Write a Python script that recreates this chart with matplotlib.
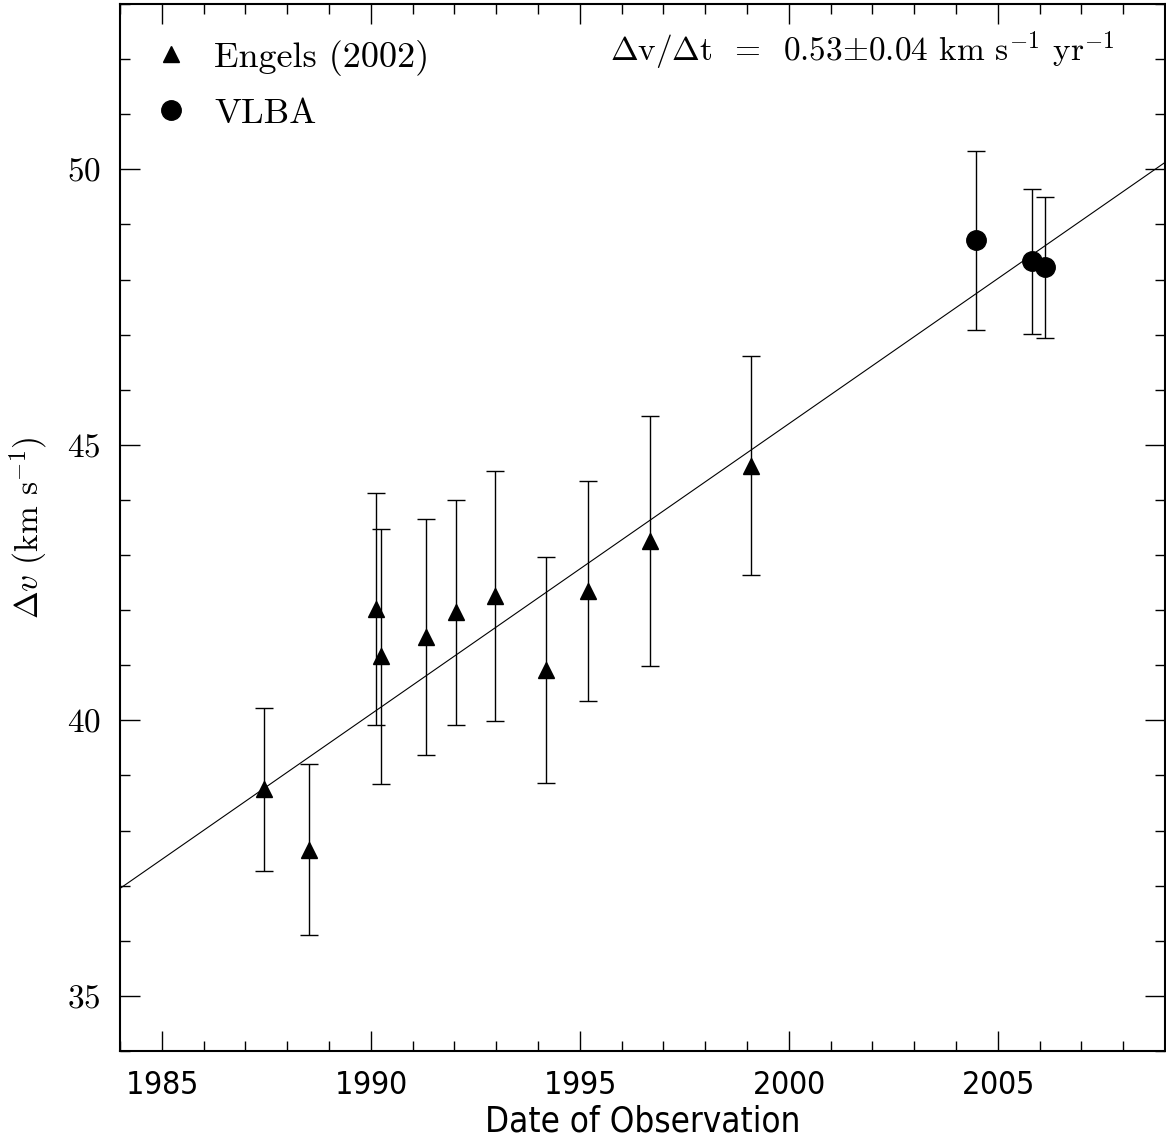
import numpy as np
import matplotlib.pyplot as plt
from matplotlib import font_manager
from matplotlib.lines import Line2D
from matplotlib.ticker import MultipleLocator

# Engels (2002) single-dish points
engels_year = [1987.45, 1988.52, 1990.13, 1990.25, 1991.33, 1992.05,
               1992.98, 1994.18, 1995.19, 1996.67, 1999.09]
engels_dv = [38.75, 37.65, 42.02, 41.16, 41.51, 41.96,
             42.25, 40.92, 42.35, 43.25, 44.62]
engels_err = [1.48, 1.55, 2.10, 2.31, 2.14, 2.04,
              2.27, 2.05, 1.99, 2.27, 1.99]

# VLBA points
vlba_year = [2004.47, 2005.83, 2006.14]
vlba_dv = [48.71, 48.33, 48.22]
vlba_err = [1.62, 1.32, 1.28]

# linear fit
fit_slope = 0.527
fit_at_1984 = 36.95

plt.rcParams['mathtext.fontset'] = 'cm'
plt.rcParams['axes.formatter.use_mathtext'] = True

# look for a condensed sans for the x axis (the original uses a narrow stroke font)
narrow_fp = None
for f in font_manager.fontManager.ttflist:
    if ('Narrow' in f.name or f.stretch in ('condensed', 'semi-condensed')) \
            and f.style == 'normal' and f.weight in (400, 'normal', 'regular'):
        narrow_fp = font_manager.FontProperties(fname=f.fname)
        break
if narrow_fp is None:
    narrow_fp = font_manager.FontProperties(family='DejaVu Sans', stretch='condensed')
serif = 'cmr10'

fig = plt.figure(figsize=(11.66, 11.39), dpi=100)
ax = fig.add_axes([120/1166, 88/1139, 1045/1166, 1047/1139])

xx = np.array([1984, 2009])
ax.plot(xx, fit_at_1984 + fit_slope*(xx - 1984), color='k', lw=0.8)

ax.errorbar(engels_year, engels_dv, yerr=engels_err, fmt='^', ms=12,
            color='k', ecolor='k', elinewidth=1.0, capsize=6.7, capthick=1.0)
ax.errorbar(vlba_year, vlba_dv, yerr=vlba_err, fmt='o', ms=14,
            color='k', ecolor='k', elinewidth=1.0, capsize=6.7, capthick=1.0)

ax.set_xlim(1984, 2009)
ax.set_ylim(34, 53)
ax.xaxis.set_major_locator(MultipleLocator(5))
ax.xaxis.set_minor_locator(MultipleLocator(1))
ax.yaxis.set_major_locator(MultipleLocator(5))
ax.yaxis.set_minor_locator(MultipleLocator(1))
ax.tick_params(which='both', direction='in', top=True, right=True, color='k')
ax.tick_params(which='major', length=14.4, width=1.0)
ax.tick_params(which='minor', length=7.2, width=1.0)
ax.tick_params(axis='x', pad=14)
ax.tick_params(axis='y', pad=14, labelsize=24)
for lab in ax.get_xticklabels():
    lab.set_fontproperties(narrow_fp)
    lab.set_fontsize(23)
for lab in ax.get_yticklabels():
    lab.set_family(serif)
for s in ax.spines.values():
    s.set_linewidth(1.5)

ax.set_xlabel('Date of Observation', fontproperties=narrow_fp, labelpad=2)
ax.xaxis.label.set_fontsize(25)
ax.set_ylabel(r'$\Delta v$ (km s$^{-1}$)', family=serif, fontsize=24, labelpad=12)

handles = [Line2D([], [], ls='none', marker='^', ms=12, color='k'),
           Line2D([], [], ls='none', marker='o', ms=14, color='k')]
leg = ax.legend(handles, ['Engels (2002)', 'VLBA'], loc='upper left',
                bbox_to_anchor=(-0.003, 0.997), frameon=False,
                prop={'family': serif, 'size': 26}, handletextpad=0.6,
                labelspacing=0.6, handlelength=1.2)

ax.text(0.952, 0.955, r'$\Delta$v/$\Delta$t  =  0.53$\pm$0.04 km s$^{-1}$ yr$^{-1}$',
        transform=ax.transAxes, ha='right', va='center', family=serif, fontsize=24)

fig.savefig('out.png', dpi=100)
